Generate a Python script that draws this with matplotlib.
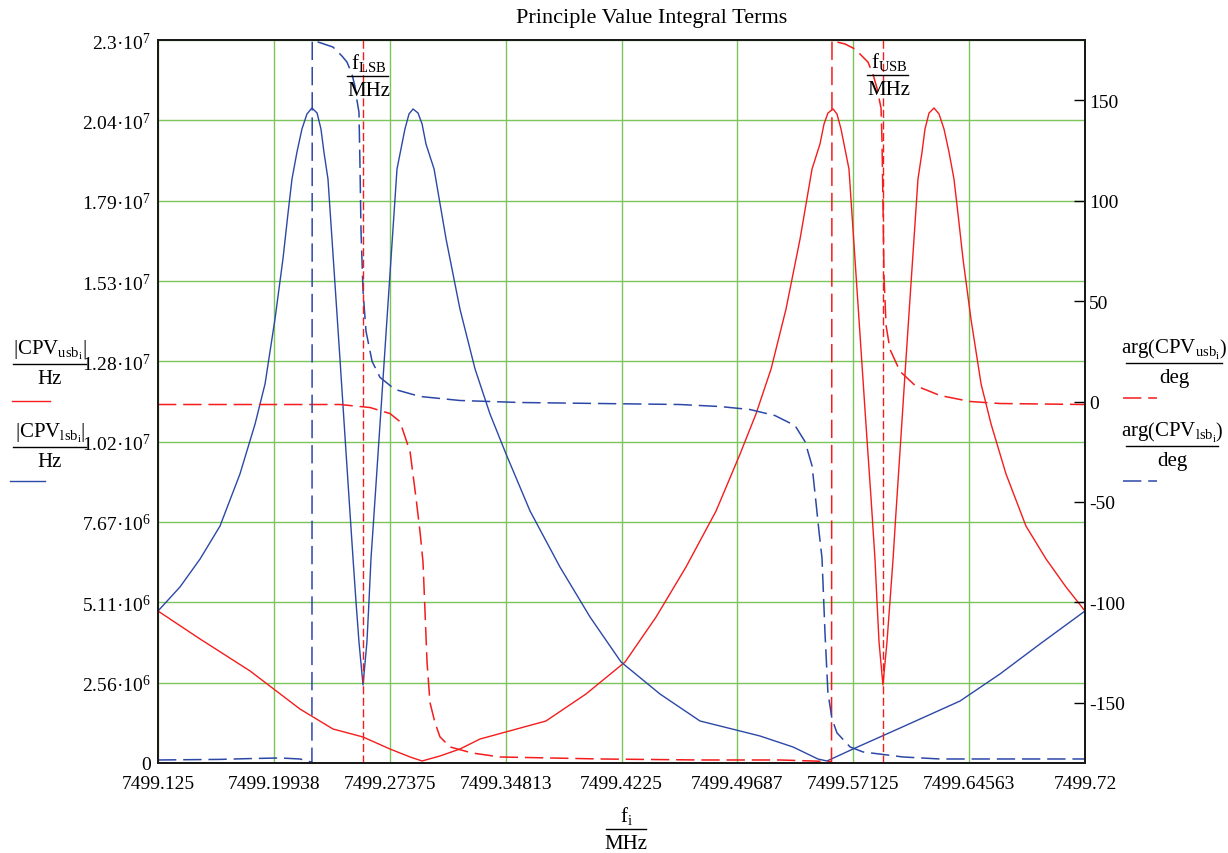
import numpy as np
import matplotlib
matplotlib.use('Agg')
import matplotlib.pyplot as plt
from matplotlib.lines import Line2D

plt.rcParams['font.family'] = ['Liberation Serif', 'DejaVu Serif']
plt.rcParams['mathtext.fontset'] = 'custom'
plt.rcParams['mathtext.rm'] = 'Liberation Serif'
plt.rcParams['mathtext.it'] = 'Liberation Serif:italic'
plt.rcParams['axes.unicode_minus'] = False

# |CPV_lsb| (blue) in units of 1e6 Hz
lsb_mag_f = [7499.1250, 7499.1391, 7499.1520, 7499.1648, 7499.1776, 7499.1873, 7499.1937, 7499.2001,
             7499.2052, 7499.2084, 7499.2110, 7499.2142, 7499.2174, 7499.2206, 7499.2238, 7499.2271,
             7499.2296, 7499.2315, 7499.2341, 7499.2386, 7499.2418, 7499.2450, 7499.2482, 7499.2502,
             7499.2521, 7499.2540, 7499.2566, 7499.2591, 7499.2604, 7499.2617, 7499.2643, 7499.2675,
             7499.2707, 7499.2739, 7499.2784, 7499.2835, 7499.2861, 7499.2887, 7499.2919, 7499.2945,
             7499.2970, 7499.3022, 7499.3099, 7499.3188, 7499.3285, 7499.3381, 7499.3484, 7499.3638,
             7499.3830, 7499.4023, 7499.4222, 7499.4472, 7499.4729, 7499.4986, 7499.5114, 7499.5326,
             7499.5486, 7499.5544, 7499.5711, 7499.6013, 7499.6398, 7499.6654, 7499.6911, 7499.7200]
lsb_mag = [4.835, 5.599, 6.490, 7.539, 9.194, 10.784, 12.057, 14.125, 16.033, 17.465, 18.578, 19.437,
           20.169, 20.646, 20.837, 20.678, 20.169, 19.437, 18.578, 15.238, 12.852, 10.403, 7.985, 6.490,
           5.122, 3.849, 2.481, 3.849, 5.122, 6.490, 8.398, 10.784, 13.170, 15.556, 18.896, 20.169,
           20.646, 20.805, 20.678, 20.328, 19.692, 18.896, 16.669, 14.443, 12.534, 11.102, 9.830, 8.017,
           6.235, 4.645, 3.213, 2.195, 1.336, 1.018, 0.859, 0.509, 0.127, 0.064, 0.445, 1.113,
           1.972, 2.831, 3.786, 4.835]

# |CPV_usb| (red) in units of 1e6 Hz
usb_mag_f = [7499.1250, 7499.1520, 7499.1841, 7499.2161, 7499.2373, 7499.2566, 7499.2739, 7499.2868,
             7499.2945, 7499.3060, 7499.3188, 7499.3317, 7499.3740, 7499.3997, 7499.4248, 7499.4447,
             7499.4639, 7499.4832, 7499.4986, 7499.5088, 7499.5185, 7499.5281, 7499.5371, 7499.5448,
             7499.5499, 7499.5525, 7499.5550, 7499.5583, 7499.5608, 7499.5634, 7499.5685, 7499.5730,
             7499.5762, 7499.5794, 7499.5827, 7499.5852, 7499.5865, 7499.5878, 7499.5903, 7499.5929,
             7499.5948, 7499.5968, 7499.5987, 7499.6019, 7499.6051, 7499.6083, 7499.6128, 7499.6154,
             7499.6173, 7499.6199, 7499.6231, 7499.6263, 7499.6295, 7499.6327, 7499.6359, 7499.6385,
             7499.6417, 7499.6468, 7499.6533, 7499.6597, 7499.6693, 7499.6821, 7499.6950, 7499.7078,
             7499.7200]
usb_mag = [4.835, 3.945, 2.927, 1.718, 1.082, 0.827, 0.445, 0.191, 0.064, 0.223, 0.445, 0.763,
           1.336, 2.195, 3.213, 4.645, 6.235, 8.017, 9.830, 11.102, 12.534, 14.443, 16.669, 18.896,
           19.692, 20.328, 20.678, 20.805, 20.646, 20.169, 18.896, 15.556, 13.170, 10.784, 8.398, 6.490,
           5.122, 3.849, 2.481, 3.849, 5.122, 6.490, 7.985, 10.403, 12.852, 15.238, 18.578, 19.437,
           20.169, 20.678, 20.837, 20.646, 20.169, 19.437, 18.578, 17.465, 16.033, 14.125, 12.057, 10.784,
           9.194, 7.539, 6.490, 5.599, 4.835]

# arg(CPV_lsb) in degrees (blue dashed)
lsb_arg_f = [7499.1250, 7499.1648, 7499.1841, 7499.2033, 7499.2161, 7499.2232, 7499.2238, 7499.2240,
             7499.2277, 7499.2373, 7499.2431, 7499.2463, 7499.2495, 7499.2514, 7499.2527, 7499.2540,
             7499.2547, 7499.2553, 7499.2566, 7499.2585, 7499.2624, 7499.2675, 7499.2771, 7499.2932,
             7499.3188, 7499.3574, 7499.4087, 7499.4600, 7499.4857, 7499.5050, 7499.5210, 7499.5339,
             7499.5403, 7499.5448, 7499.5473, 7499.5493, 7499.5512, 7499.5531, 7499.5550, 7499.5576,
             7499.5608, 7499.5692, 7499.5775, 7499.6032, 7499.6269, 7499.7200]
lsb_arg = [-178.5, -178.2, -177.8, -177.5, -178, -179.5, -179.8, 179.8, 179, 176.5, 172, 169,
           163, 157, 150, 144, 115, 85, 55, 35, 20, 12, 6, 2.5, 0.5, -0.5, -1, -1.5, -2.5, -4,
           -7, -12, -20, -32, -50, -65, -78, -115, -145, -158, -165, -172, -174.5, -177, -178, -178]

# arg(CPV_usb) in degrees (red dashed)
usb_arg_f = [7499.1250, 7499.2418, 7499.2611, 7499.2739, 7499.2803, 7499.2868, 7499.2906, 7499.2932,
             7499.2951, 7499.2977, 7499.2996, 7499.3028, 7499.3060, 7499.3124, 7499.3265, 7499.3445,
             7499.4087, 7499.4729, 7499.5242, 7499.5573, 7499.5576, 7499.5608, 7499.5660, 7499.5724,
             7499.5756, 7499.5807, 7499.5839, 7499.5865, 7499.5891, 7499.5897, 7499.5903, 7499.5910,
             7499.5923, 7499.5948, 7499.6013, 7499.6109, 7499.6269, 7499.6462, 7499.6654, 7499.7200]
usb_arg = [-1.5, -1.5, -3, -6, -10, -25, -48, -65, -80, -130, -150, -160, -167, -172, -175, -177,
           -178, -178.5, -178.5, -179.3, 179.8, 179, 178, 175.5, 173, 169, 163, 156, 146, 130, 100, 62,
           38, 26, 15, 8, 3, 0, -1, -1.5]

f_LSB = 7499.2566
f_USB = 7499.5903

x_labels = ['7499.125', '7499.19938', '7499.27375', '7499.34813', '7499.4225',
            '7499.49687', '7499.57125', '7499.64563', '7499.72']
y_labels = ['0', '2.56·10$^{6}$', '5.11·10$^{6}$', '7.67·10$^{6}$', '1.02·10$^{7}$',
            '1.28·10$^{7}$', '1.53·10$^{7}$', '1.79·10$^{7}$', '2.04·10$^{7}$', '2.3·10$^{7}$']
deg_ticks = [-150, -100, -50, 0, 50, 100, 150]

RED = '#f41c1c'
BLUE = '#2c48a6'
GRID = '#7cc55a'
PHASE_DASH = (12, 4.5)
MARK_DASH = (5.8, 2.5)

W, H = 1228, 854
fig = plt.figure(figsize=(W / 100, H / 100), dpi=100)
ax = fig.add_axes([158 / W, 1 - 764 / H, 927 / W, 723 / H])
ax2 = ax.twinx()

ax.set_xlim(7499.125, 7499.72)
ax.set_ylim(0, 2.3e7)
ax2.set_ylim(-180, 180)

ax.set_xticks(np.linspace(7499.125, 7499.72, 9))
ax.set_xticklabels(x_labels, fontsize=14)
ax.set_yticks(np.linspace(0, 2.3e7, 10))
ax.set_yticklabels(y_labels, fontsize=14)
ax.tick_params(axis='both', length=0)
ax.tick_params(axis='x', pad=9)
ax.tick_params(axis='y', pad=5)
ax.grid(True, color=GRID, lw=1.0)
ax.set_axisbelow(True)

ax2.set_yticks(deg_ticks)
ax2.set_yticklabels([str(t) for t in deg_ticks], fontsize=14)
ax2.tick_params(axis='y', direction='in', length=8, width=1, pad=3)

for a in (ax, ax2):
    for s in a.spines.values():
        s.set_color('#1a1a1a')
        s.set_linewidth(1.4)

ax.plot(usb_mag_f, np.array(usb_mag) * 1e6, color=RED, lw=1.0)
ax.plot(lsb_mag_f, np.array(lsb_mag) * 1e6, color=BLUE, lw=1.0)

ax2.plot(usb_arg_f, usb_arg, color=RED, lw=1.1, dashes=PHASE_DASH)
ax2.plot(lsb_arg_f, lsb_arg, color=BLUE, lw=1.1, dashes=PHASE_DASH)
ax2.axvline(f_LSB, color=RED, lw=1.0, dashes=MARK_DASH)
ax2.axvline(f_USB, color=RED, lw=1.0, dashes=MARK_DASH)


def hline(x0, x1, y, **kw):
    fig.add_artist(Line2D([x0 / W, x1 / W], [1 - y / H] * 2, **kw))


def frac(xc, ybar, x0, x1, num, den):
    # Mathcad style stacked label: numerator / bar / denominator
    hline(x0, x1, ybar, color='black', lw=1.0)
    fig.text(xc / W, 1 - (ybar - 3) / H, num, ha='center', va='bottom', fontsize=15)
    fig.text(xc / W, 1 - (ybar + 5) / H, den, ha='center', va='top', fontsize=15)


fig.text(652 / W, 1 - 18 / H, 'Principle Value Integral Terms', ha='center', va='center', fontsize=16)

frac(369, 77, 347, 388, r'f$_{\mathrm{LSB}}$', 'MHz')
frac(889, 76, 867, 908, r'f$_{\mathrm{USB}}$', 'MHz')
frac(626, 830, 606, 646, r'f$_{\mathrm{i}}$', 'MHz')

frac(50, 365, 13, 86, r'$\left|\mathrm{CPV}_{\mathrm{usb}_{\mathrm{i}}}\right|$', 'Hz')
frac(50, 448, 13, 86, r'$\left|\mathrm{CPV}_{\mathrm{lsb}_{\mathrm{i}}}\right|$', 'Hz')
frac(1174, 364, 1126, 1222, r'$\mathrm{arg}\left(\mathrm{CPV}_{\mathrm{usb}_{\mathrm{i}}}\right)$', 'deg')
frac(1172, 447, 1126, 1218, r'$\mathrm{arg}\left(\mathrm{CPV}_{\mathrm{lsb}_{\mathrm{i}}}\right)$', 'deg')

hline(12, 50, 402, color=RED, lw=1.0)
hline(10, 45, 482, color=BLUE, lw=1.0)
hline(1123, 1157, 399, color=RED, lw=1.1, dashes=PHASE_DASH)
hline(1123, 1157, 482, color=BLUE, lw=1.1, dashes=PHASE_DASH)

fig.savefig('out.png', dpi=100)
